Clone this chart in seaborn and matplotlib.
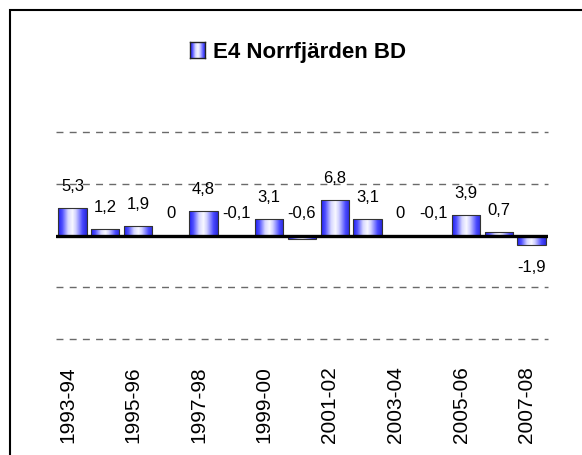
import numpy as np
import matplotlib
matplotlib.use("Agg")
import matplotlib.pyplot as plt
import seaborn as sns
from matplotlib.colors import LinearSegmentedColormap
from matplotlib.patches import Rectangle
from matplotlib.transforms import ScaledTranslation

# Data
seasons = ['1993-94', '1994-95', '1995-96', '1996-97', '1997-98', '1998-99',
           '1999-00', '2000-01', '2001-02', '2002-03', '2003-04', '2004-05',
           '2005-06', '2006-07', '2007-08']
values = [5.3, 1.2, 1.9, 0, 4.8, -0.1, 3.1, -0.6, 6.8, 3.1, 0, -0.1, 3.9, 0.7, -1.9]
series_name = "E4 Norrfjärden BD"

sns.set_style("white")
plt.rcParams['font.family'] = ['Liberation Sans', 'DejaVu Sans']
plt.rcParams['text.color'] = 'black'
plt.rcParams['xtick.color'] = 'black'

# cylinder-like blue/white gradient used on the bars
cyl = LinearSegmentedColormap.from_list("cyl", [
    (0.0, '#1c1cf0'), (0.15, '#5050ff'), (0.35, '#d8d8ff'), (0.5, '#f8f8ff'),
    (0.62, '#d0d0ff'), (0.85, '#4848ff'), (1.0, '#2828d8')])
grad = np.linspace(0, 1, 256).reshape(1, -1)

fig = plt.figure(figsize=(5.82, 4.56), dpi=100)
ax = fig.add_axes([56 / 582, 1 - 340 / 456, 492 / 582, 207 / 456])

sns.barplot(x=seasons, y=values, color='blue', width=0.86, ax=ax, zorder=3)

# replace flat fill by the gradient, clipped to each bar
for p in ax.patches:
    bb = p.get_bbox()
    im = ax.imshow(grad, cmap=cyl, aspect='auto', zorder=2,
                   extent=[bb.x0, bb.x1, min(bb.y0, bb.y1), max(bb.y0, bb.y1)])
    im.set_clip_path(p)
    p.set_facecolor('none')
    p.set_edgecolor('#333333')
    p.set_linewidth(0.8)

ax.set_xlim(-0.5, len(seasons) - 0.5)
ax.set_ylim(-20, 20)

# gridlines and zero line
for g in [-20, -10, 10, 20]:
    ax.axhline(g, color='#6a6a6a', lw=1, linestyle=(0, (5, 4.5)), zorder=1, clip_on=False)
ax.axhline(0, color='black', lw=2.4, zorder=4)

# value labels
for i, v in enumerate(values):
    txt = f"{v:g}".replace('.', ',')
    if v < -1:
        ax.annotate(txt, (i, v), xytext=(0, -10), textcoords='offset points',
                    ha='center', va='top', fontsize=12, color='black')
    else:
        ax.annotate(txt, (i, max(v, 0)), xytext=(0, 13), textcoords='offset points',
                    ha='center', va='baseline', fontsize=12, color='black')

ax.set_yticks([])
ax.set_xticks(range(0, len(seasons), 2))
ax.set_xticklabels(seasons[::2], rotation=90, fontsize=15, color='black')
ax.tick_params(axis='x', length=0, pad=19)
for lbl in ax.get_xticklabels():
    lbl.set_transform(lbl.get_transform() + ScaledTranslation(-5 / 100, 0, fig.dpi_scale_trans))
ax.set_xlabel("")
ax.set_ylabel("")
for s in ax.spines.values():
    s.set_visible(False)

# legend-like title with swatch
sw = fig.add_axes([190 / 582, 1 - 59 / 456, 15 / 582, 16 / 456])
sw.imshow(grad, cmap=cyl, aspect='auto')
sw.set_xticks([])
sw.set_yticks([])
for s in sw.spines.values():
    s.set_linewidth(1)
    s.set_color('#222222')
fig.text(213 / 582, 1 - 58 / 456, series_name, fontsize=16, fontweight='bold',
         ha='left', va='baseline', color='black')

# outer frame (cut off at right and bottom)
fig.add_artist(Rectangle((9.5 / 582, -0.2), 2, 1.2 - 10.5 / 456, transform=fig.transFigure,
                         fill=False, lw=1.5, ec='black'))

fig.savefig("out.png", dpi=100)
